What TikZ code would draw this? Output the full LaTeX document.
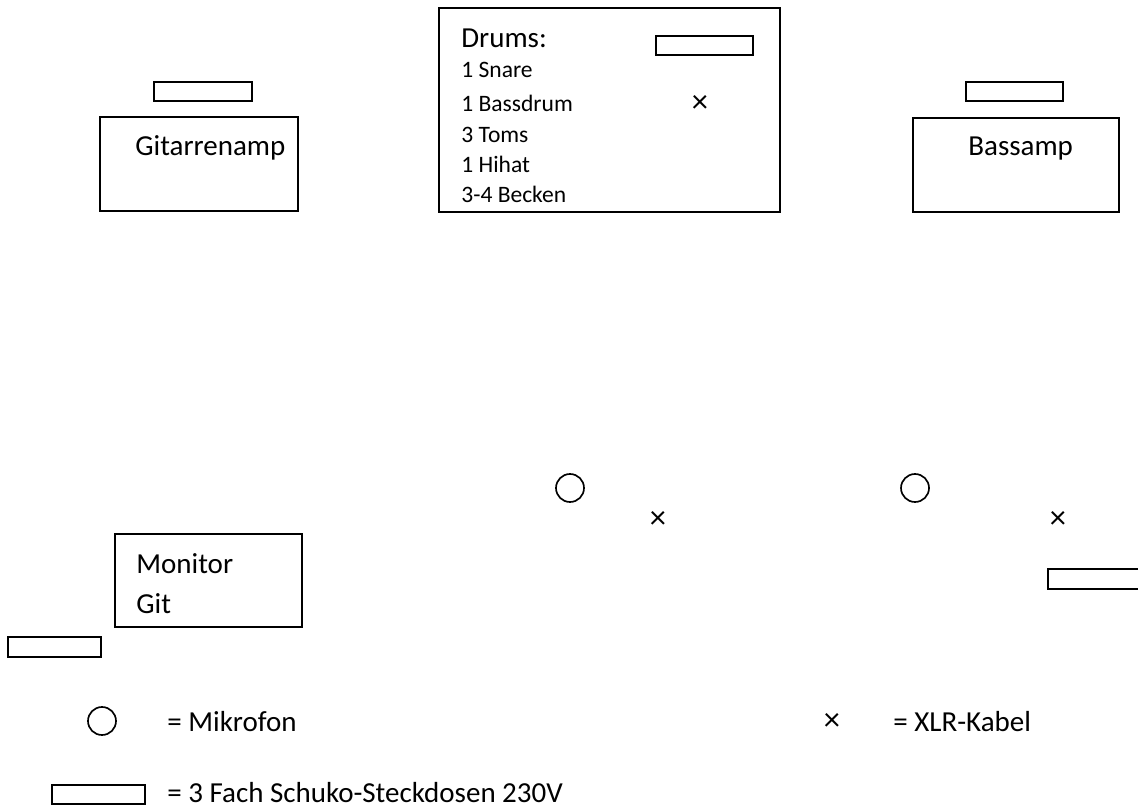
\documentclass[tikz,border=0pt]{standalone}
\usepackage{fontspec}
\setmainfont{Carlito}
\tikzset{
  box/.style={line width=1.1pt},
  mic/.style={line width=0.95pt},
  bigtext/.style={anchor=base west,inner sep=0pt,font=\fontsize{16.5}{20}\selectfont},
  smalltext/.style={anchor=base west,inner sep=0pt,font=\fontsize{13.4}{16}\selectfont},
  xlr/.style={inner sep=0pt,font=\fontsize{18.5}{22}\selectfont}
}
\begin{document}
\begin{tikzpicture}[x=0.02cm,y=-0.02cm]
\useasboundingbox (0,0) rectangle (1138,807);
\coordinate (GA) at (100,117);
\coordinate (GB) at (298,211);
\coordinate (GS1) at (154,82);
\coordinate (GS2) at (252,101);
\coordinate (DA) at (439,8);
\coordinate (DB) at (780,212);
\coordinate (DS1) at (656,36);
\coordinate (DS2) at (753,55);
\coordinate (BA) at (913,118);
\coordinate (BB) at (1119,212);
\coordinate (BS1) at (966,82);
\coordinate (BS2) at (1063,101);
\coordinate (MA) at (115,534);
\coordinate (MB) at (302,627);
\coordinate (MS1) at (8,637);
\coordinate (MS2) at (101,657);
\coordinate (RS1) at (1048,569);
\coordinate (RS2) at (1150,589);
\coordinate (LS1) at (52,785);
\coordinate (LS2) at (145,804);
\draw [box] (GA) rectangle (GB);
\draw [box] (GS1) rectangle (GS2);
\node [bigtext] (gitamp) at (135,156) {Gitarrenamp};
\draw [box] (DA) rectangle (DB);
\draw [box] (DS1) rectangle (DS2);
\node [bigtext] (drums) at (461,48) {Drums:};
\node [smalltext] (snare) at (461,78) {1 Snare};
\node [smalltext] (bassdrum) at (461,112) {1 Bassdrum};
\node [smalltext] (toms) at (461,143) {3 Toms};
\node [smalltext] (hihat) at (461,173) {1 Hihat};
\node [smalltext] (becken) at (461,203) {3-4 Becken};
\node [xlr] (xdrum) at (700,104) {×};
\draw [box] (BA) rectangle (BB);
\draw [box] (BS1) rectangle (BS2);
\node [bigtext] (bassamp) at (968,156) {Bassamp};
\draw [mic] (570,488) circle (14);
\draw [mic] (915,488) circle (14);
\node [xlr] (xleft) at (658,520) {×};
\node [xlr] (xright) at (1058,520) {×};
\draw [box] (RS1) rectangle (RS2);
\draw [box] (MA) rectangle (MB);
\node [bigtext] (monitor) at (136,573) {Monitor};
\node [bigtext] (git) at (136,613) {Git};
\draw [box] (MS1) rectangle (MS2);
\draw [mic] (102,721) circle (14);
\node [bigtext] (mikrofon) at (167,731) {= Mikrofon};
\node [xlr] (xlegend) at (832,722) {×};
\node [bigtext] (kabel) at (893,731) {= XLR-Kabel};
\draw [box] (LS1) rectangle (LS2);
\node [bigtext] (schuko) at (167,802) {= 3 Fach Schuko-Steckdosen 230V};
\end{tikzpicture}
\end{document}
